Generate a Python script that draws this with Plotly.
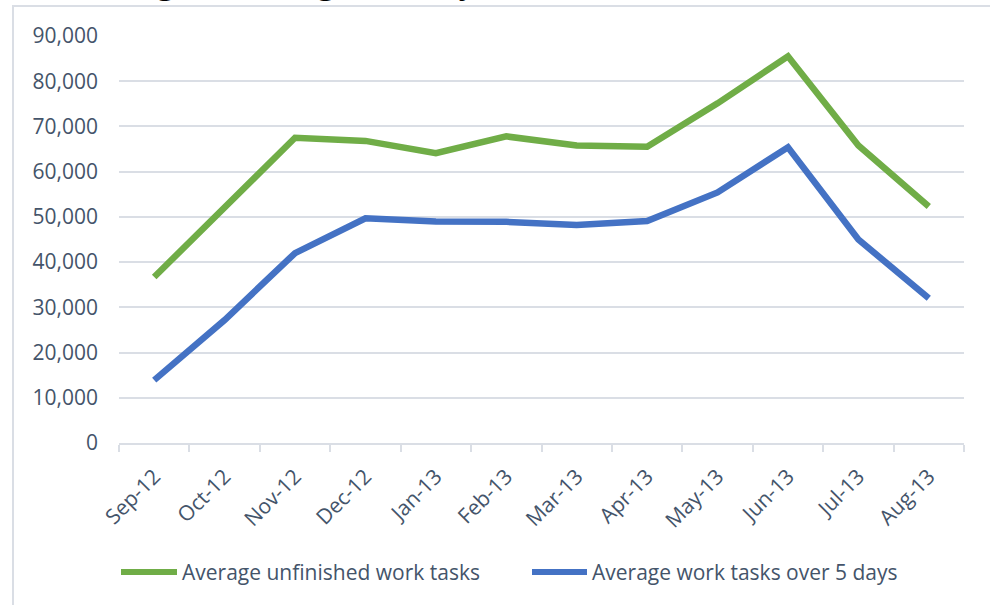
import plotly.graph_objects as go

months = ["Sep-12", "Oct-12", "Nov-12", "Dec-12", "Jan-13", "Feb-13",
          "Mar-13", "Apr-13", "May-13", "Jun-13", "Jul-13", "Aug-13"]
unfinished = [36700, 52100, 67500, 66800, 64100, 67800,
              65800, 65500, 75100, 85500, 65800, 52300]
over5days = [13900, 27200, 42000, 49700, 49000, 48900,
             48200, 49100, 55400, 65400, 45000, 32000]
yticks = [0, 10000, 20000, 30000, 40000, 50000, 60000, 70000, 80000, 90000]
ytick_text = ["0", "10,000", "20,000", "30,000", "40,000", "50,000",
              "60,000", "70,000", "80,000", "90,000"]
series_names = ["Average unfinished work tasks", "Average work tasks over 5 days"]
title_text = "Average Working Tasks by Month"

GREEN = "#70ad47"
BLUE = "#4472c4"
GRID = "#dadee5"
TXT = "#44546a"
colors = [GREEN, BLUE]

fig = go.Figure()
fig.add_trace(go.Scatter(x=months, y=unfinished, mode="lines", name=series_names[0],
                         line=dict(color=GREEN, width=6.5), showlegend=False))
fig.add_trace(go.Scatter(x=months, y=over5days, mode="lines", name=series_names[1],
                         line=dict(color=BLUE, width=6.5), showlegend=False))

L, R, T, B = 119, 26, 36, 162
W, H = 990, 605
pw, ph = W - L - R, H - T - B

def px2x(p):
    return (p - L) / pw

def px2y(p):
    return (H - B - p) / ph

# custom legend (sample line + label per series)
legend_line_x = [(121, 177), (532, 587)]
legend_text_x = [180, 590]
legend_y = 572
shapes = [dict(type="path", xref="paper", yref="paper",
               path=f"M {px2x(13)} {px2y(640)} L {px2x(13)} {px2y(6)} L {px2x(1000)} {px2y(6)}",
               line=dict(color=GRID, width=2), layer="below")]
annotations = [dict(text=f"<b>{title_text}</b>", xref="paper", yref="paper",
                    x=px2x(63), xanchor="left", y=px2y(3), yanchor="bottom",
                    showarrow=False,
                    font=dict(family="Liberation Serif", size=36, color="black"))]
for (x0, x1), tx, name, c in zip(legend_line_x, legend_text_x, series_names, colors):
    shapes.append(dict(type="line", xref="paper", yref="paper",
                       x0=px2x(x0), x1=px2x(x1), y0=px2y(legend_y), y1=px2y(legend_y),
                       line=dict(color=c, width=6)))
    annotations.append(dict(text=name, xref="paper", yref="paper", x=px2x(tx), xanchor="left",
                            y=px2y(legend_y), yanchor="middle", showarrow=False,
                            font=dict(family="Open Sans", size=21, color=TXT)))

fig.update_layout(
    width=W, height=H,
    margin=dict(l=L, r=R, t=T, b=B, pad=0),
    paper_bgcolor="white", plot_bgcolor="white",
    font=dict(family="Open Sans", size=21, color=TXT),
    showlegend=False,
    xaxis=dict(type="category", showgrid=False, showline=True, linecolor=GRID, linewidth=2,
               ticks="outside", tickson="boundaries", ticklen=7, tickwidth=2, tickcolor=GRID,
               tickangle=-45, ticklabelstandoff=11,
               tickfont=dict(family="Open Sans", size=21, color=TXT),
               range=[-0.5, 11.5], fixedrange=True),
    yaxis=dict(range=[0, 90000], tickvals=yticks, ticktext=ytick_text, showgrid=True,
               gridcolor=GRID, gridwidth=2, zeroline=False, showline=False, ticks="",
               ticklabelstandoff=20, tickfont=dict(family="Open Sans", size=21, color=TXT),
               fixedrange=True),
    shapes=shapes,
    annotations=annotations,
)

fig.write_html("out.html", config={"displayModeBar": False},
               post_script="document.body.style.margin='0';")
